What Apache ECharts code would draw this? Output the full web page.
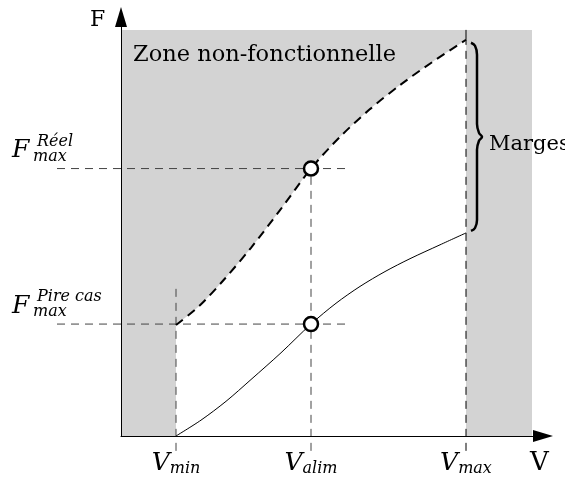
<!DOCTYPE html>
<html>
<head>
<meta charset="utf-8">
<script src="https://cdn.jsdelivr.net/npm/echarts@6/dist/echarts.min.js"></script>
<style>
  html, body { margin: 0; padding: 0; background: #fff; }
  #chart { width: 565px; height: 477px; }
</style>
</head>
<body>
<div id="chart"></div>
<script>
// values, V and F in the figure's own units (origin = axes corner)
var vTicks = [55, 190, 345];              // V min, V alim, V max
var vTickNames = ['min', 'alim', 'max'];
var fLevels = [270, 113];                 // F max réel, F max pire cas
var fLevelSup = ['Réel', 'Pire cas'];
var zoneRight = 411;
var zoneTop = 410;

// dashed limit of the non-functional zone
var limitV = [55, 79, 104, 130, 159, 190, 219, 249, 280, 312, 345];
var limitF = [112, 132, 159, 190, 228, 270, 302, 330, 355, 378, 400];

// worst-case curve
var realV = [55, 80, 105, 130, 160, 190, 215, 239, 264, 289, 319, 345];
var realF = [0, 16, 35, 57, 84, 113, 134, 151, 166, 179, 193, 205];

// brace for "Marges"
var braceV = [350, 354, 356, 356, 358, 361, 358, 356, 356, 354, 350];
var braceF = [397, 394, 385, 315, 306, 302, 298, 289, 218, 210, 207];

var guideLeft = -64, guideRight = 227, guideBottom = -15, vminGuideTop = 150;

function pairs(xs, ys) {
  return xs.map(function (x, i) { return [x, ys[i]]; });
}

var chart = echarts.init(document.getElementById('chart'));

var serifFont = '"DejaVu Serif", serif';

// guide segments: [v1, f1, v2, f2, style]
var guides = [];
fLevels.forEach(function (f) { guides.push([guideLeft, f, guideRight, f, 0]); });
guides.push([vTicks[0], guideBottom, vTicks[0], vminGuideTop, 0]);
guides.push([vTicks[1], guideBottom, vTicks[1], fLevels[0], 0]);
guides.push([vTicks[2], guideBottom, vTicks[2], limitF[limitF.length - 1], 1]);
guides.push([vTicks[2], limitF[limitF.length - 1], vTicks[2], zoneTop, 2]);

var guideStyles = [
  { stroke: '#444', lineWidth: 1, lineDash: [8, 6] },
  { stroke: '#000', lineWidth: 1, lineDash: [8, 6] },
  { stroke: '#000', lineWidth: 1 }
];

var series = [
  {
    // grey zone
    type: 'line', data: [], silent: true, z: 1,
    markArea: {
      silent: true,
      itemStyle: { color: '#d3d3d3' },
      data: [[{ coord: [0, 0] }, { coord: [zoneRight, zoneTop] }]]
    }
  },
  {
    // functional (white) zone under the limit
    type: 'line', data: pairs(limitV, limitF), smooth: 0.3, symbol: 'none', z: 2,
    lineStyle: { width: 0 },
    areaStyle: { color: '#fff', opacity: 1, origin: 'start' }
  },
  {
    type: 'line', data: pairs(limitV, limitF), smooth: 0.3, symbol: 'none', z: 5,
    lineStyle: { color: '#000', width: 2, type: [9, 6] }
  },
  {
    type: 'line', data: pairs(realV, realF), smooth: 0.3, symbol: 'none', z: 5,
    lineStyle: { color: '#000', width: 1 }
  },
  {
    type: 'custom', z: 4, clip: false, silent: true,
    data: guides,
    renderItem: function (params, api) {
      var p1 = api.coord([api.value(0), api.value(1)]);
      var p2 = api.coord([api.value(2), api.value(3)]);
      return {
        type: 'line',
        shape: { x1: p1[0], y1: p1[1], x2: p2[0], y2: p2[1] },
        style: guideStyles[api.value(4)]
      };
    }
  },
  {
    type: 'line', data: pairs(braceV, braceF), smooth: 0.4, symbol: 'none', clip: false, z: 5,
    lineStyle: { color: '#000', width: 2.5 }
  },
  {
    type: 'scatter', z: 8,
    data: fLevels.map(function (f) { return [vTicks[1], f]; }),
    symbol: 'circle', symbolSize: 14,
    itemStyle: { color: '#fff', borderColor: '#000', borderWidth: 2.5, opacity: 1 }
  }
];

chart.setOption({
  animation: false,
  grid: { left: 121, right: 22, top: 17, bottom: 37 },
  xAxis: {
    type: 'value', min: 0, max: 422, z: 10,
    axisLine: { show: true, symbol: ['none', 'triangle'], symbolSize: [12, 20], lineStyle: { color: '#000', width: 1 } },
    axisTick: { show: false },
    splitLine: { show: false },
    axisLabel: {
      customValues: vTicks,
      margin: 13,
      formatter: function (v) {
        var i = vTicks.indexOf(v);
        return '{v|V}{s|' + vTickNames[i] + '}';
      },
      rich: {
        v: { fontFamily: serifFont, fontStyle: 'italic', fontSize: 25, lineHeight: 28, color: '#000', verticalAlign: 'middle' },
        s: { fontFamily: serifFont, fontStyle: 'italic', fontSize: 16, lineHeight: 14, color: '#000', verticalAlign: 'bottom' }
      }
    }
  },
  yAxis: {
    type: 'value', min: 0, max: 423, z: 10,
    axisLine: { show: true, symbol: ['none', 'triangle'], symbolSize: [12, 20], lineStyle: { color: '#000', width: 1 } },
    axisTick: { show: false },
    splitLine: { show: false },
    axisLabel: { show: false }
  },
  series: series
});

// text annotations, placed from the data levels
var graphics = [
  { type: 'text', x: 90, y: 20, style: { text: 'F', font: '22px ' + serifFont, fill: '#000', verticalAlign: 'middle' } },
  { type: 'text', x: 530, y: 463, style: { text: 'V', font: '26px ' + serifFont, fill: '#000', verticalAlign: 'middle' } },
  { type: 'text', x: 133, y: 55, z: 20, style: { text: 'Zone non-fonctionnelle', font: '22.5px ' + serifFont, fill: '#000', verticalAlign: 'middle' } },
  { type: 'text', x: 489, y: 145, z: 20, style: { text: 'Marges', font: '21px ' + serifFont, fill: '#000', verticalAlign: 'middle' } }
];
fLevels.forEach(function (f, i) {
  var py = chart.convertToPixel({ gridIndex: 0 }, [0, f])[1];
  var italic = 'italic ';
  graphics.push({ type: 'text', x: 12, y: py - 18, style: { text: 'F', font: italic + '25px ' + serifFont, fill: '#000', verticalAlign: 'middle' } });
  graphics.push({ type: 'text', x: 37, y: py - 27, style: { text: fLevelSup[i], font: italic + '16px ' + serifFont, fill: '#000', verticalAlign: 'middle' } });
  graphics.push({ type: 'text', x: 33, y: py - 12, style: { text: 'max', font: italic + '16px ' + serifFont, fill: '#000', verticalAlign: 'middle' } });
});
chart.setOption({ graphic: graphics });
</script>
</body>
</html>
